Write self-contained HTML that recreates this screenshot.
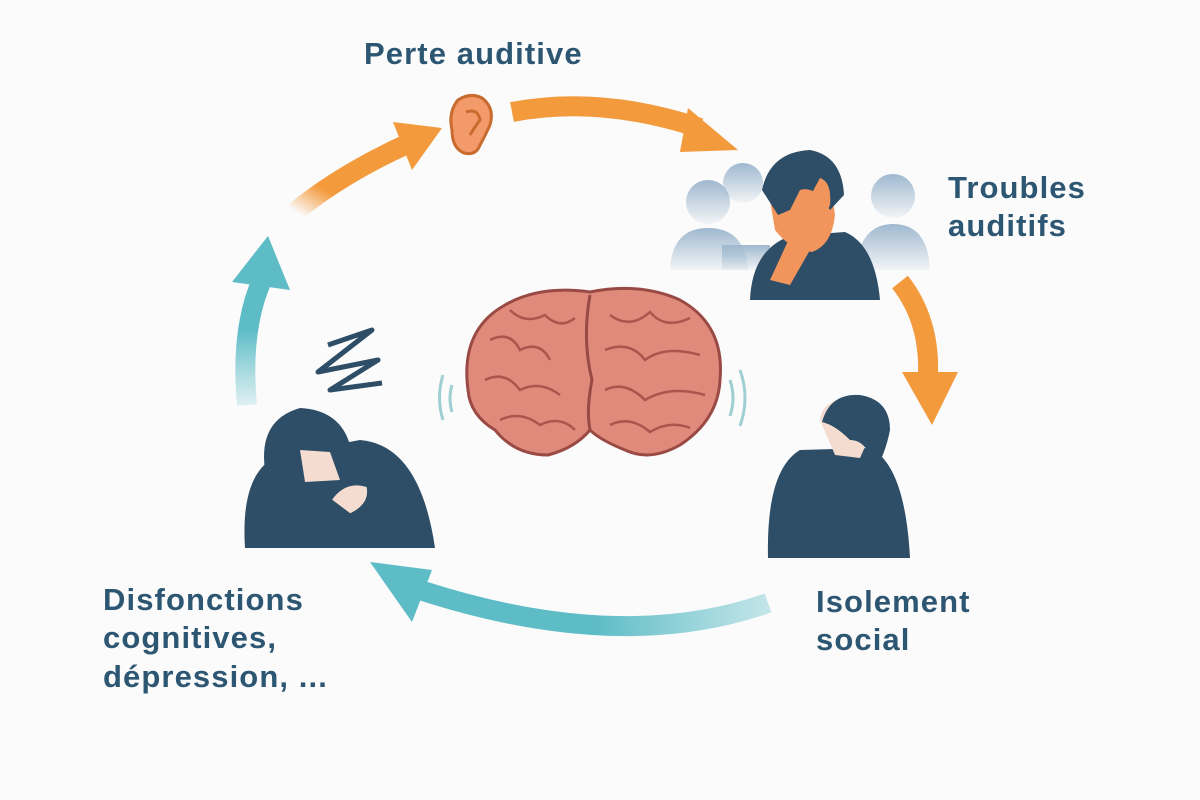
<!DOCTYPE html>
<html><head><meta charset="utf-8"><style>
html,body{margin:0;padding:0;background:#fbfbfb;}
svg{display:block}
text{font-family:"Liberation Sans",sans-serif;font-weight:bold;fill:#2d5673;font-size:31px;letter-spacing:1.1px;}
</style></head><body>
<svg width="1200" height="800" viewBox="0 0 1200 800">
<defs>
<linearGradient id="og1" x1="0" y1="1" x2="1" y2="0"><stop offset="0" stop-color="#f29a3c" stop-opacity="0"/><stop offset="0.3" stop-color="#f29a3c"/></linearGradient>
<linearGradient id="tg1" x1="0" y1="1" x2="0" y2="0"><stop offset="0" stop-color="#6cc3cc" stop-opacity="0.2"/><stop offset="0.6" stop-color="#5dbcc6"/></linearGradient>
<linearGradient id="tg2" x1="1" y1="0" x2="0" y2="0"><stop offset="0" stop-color="#6cc3cc" stop-opacity="0.4"/><stop offset="0.5" stop-color="#5dbcc6"/></linearGradient>
<linearGradient id="gp" x1="0" y1="0" x2="0" y2="1"><stop offset="0" stop-color="#9fb8cf"/><stop offset="1" stop-color="#9fb8cf" stop-opacity="0.1"/></linearGradient>
</defs>
<text x="364" y="64">Perte auditive</text>
<text x="948" y="198">Troubles</text>
<text x="948" y="236">auditifs</text>
<text x="816" y="612">Isolement</text>
<text x="816" y="650">social</text>
<text x="103" y="610">Disfonctions</text>
<text x="103" y="648">cognitives,</text>
<text x="103" y="687">dépression, ...</text>

<path d="M295 212 Q340 175 405 145" stroke="url(#og1)" stroke-width="20" fill="none"/>
<polygon points="393,122 442,128 412,170" fill="#f29a3c"/>
<path d="M512 112 Q600 95 700 128" stroke="#f29a3c" stroke-width="20" fill="none"/>
<polygon points="688,108 738,150 680,152" fill="#f29a3c"/>
<path d="M900 282 Q930 320 928 375" stroke="#f29a3c" stroke-width="20" fill="none"/>
<polygon points="902,372 958,372 932,425" fill="#f29a3c"/>
<path d="M768 603 Q620 655 420 590" stroke="url(#tg2)" stroke-width="20" fill="none"/>
<polygon points="370,562 432,570 412,622" fill="#5dbcc6"/>
<path d="M247 405 Q240 330 262 280" stroke="url(#tg1)" stroke-width="20" fill="none"/>
<polygon points="232,282 290,290 268,236" fill="#5dbcc6"/>

<path d="M458 100 Q470 92 482 98 Q495 108 490 125 Q484 138 480 145 Q476 156 464 153 Q452 148 452 130 Q448 112 458 100Z" fill="#f29a6a" stroke="#c96a2e" stroke-width="3"/>
<path d="M466 112 Q478 108 480 120 Q474 128 470 135" stroke="#c96a2e" stroke-width="3" fill="none"/>

<g fill="url(#gp)">
<circle cx="708" cy="202" r="22"/><path d="M670 270 Q672 228 708 228 Q745 228 748 270Z"/>
<circle cx="743" cy="183" r="20"/><path d="M722 245 L770 245 L770 270 L722 270Z"/>
<circle cx="893" cy="196" r="22"/><path d="M855 270 Q860 224 893 224 Q928 224 930 270Z"/>
</g>
<path d="M750 300 Q752 250 790 236 L845 232 Q875 245 880 300Z" fill="#2e4d67"/>
<path d="M770 200 Q790 175 815 178 Q832 186 835 215 Q832 245 812 252 Q790 250 775 230Z" fill="#f2955d"/>
<path d="M762 190 Q770 152 810 150 Q842 156 844 195 L830 210 Q815 185 800 190 L790 210 L778 215Z" fill="#2e4d67"/>
<path d="M800 215 L820 178 Q832 182 830 205 L810 250 L790 285 L770 280Z" fill="#f2955d"/>

<path d="M768 558 Q766 470 800 450 L870 448 Q905 465 910 558Z" fill="#2e4d67"/>
<path d="M820 420 Q822 400 850 398 Q870 405 868 440 L860 458 L835 455Z" fill="#f4dcd0"/>
<path d="M822 422 Q830 393 860 395 Q890 400 890 430 Q885 455 875 470 Q868 440 850 440 Q835 425 822 422Z" fill="#2e4d67"/>

<path d="M245 548 Q240 470 280 455 L360 440 Q420 445 435 548Z" fill="#2e4d67"/>
<path d="M265 470 Q258 420 300 408 Q340 410 350 445 L330 470Z" fill="#2e4d67"/>
<path d="M300 450 L330 452 L340 480 L305 482Z" fill="#f4dcd0"/>
<path d="M330 500 Q345 478 368 486 Q372 505 350 515Z" fill="#f4dcd0" stroke="#2e4d67" stroke-width="3"/>
<path d="M328 345 L372 330 L318 372 L378 360 L330 390 L382 383" stroke="#2e4d67" stroke-width="5" fill="none" stroke-linejoin="round"/>

<g>
<path d="M468 390 Q460 330 505 305 Q540 285 590 292 Q640 282 680 300 Q725 325 720 380 Q718 420 680 445 Q650 462 625 450 Q600 440 590 430 Q575 448 548 455 Q515 455 495 430 Q470 415 468 390Z" fill="#e08a7c" stroke="#9a4a44" stroke-width="3"/>
<path d="M590 295 Q582 340 592 380 Q586 410 590 430" stroke="#9a4a44" stroke-width="3" fill="none"/>
<g stroke="#a8564e" stroke-width="2.5" fill="none">
<path d="M490 340 Q510 330 520 350 Q540 340 550 360"/>
<path d="M510 310 Q525 325 545 315 Q560 330 575 318"/>
<path d="M485 380 Q505 370 520 390 Q540 380 560 395"/>
<path d="M500 420 Q520 410 540 425 Q560 415 575 430"/>
<path d="M610 315 Q630 330 650 312 Q665 330 690 318"/>
<path d="M605 350 Q630 340 645 360 Q665 345 700 355"/>
<path d="M605 390 Q625 380 645 400 Q670 385 705 395"/>
<path d="M610 425 Q630 415 650 432 Q670 420 690 428"/>
</g>
</g>
<g stroke="#9fcfd3" stroke-width="3" fill="none">
<path d="M443 375 Q436 398 443 420"/><path d="M452 385 Q448 398 452 412"/>
<path d="M740 370 Q750 398 740 426"/><path d="M730 380 Q736 398 730 416"/>
</g>
</svg>
</body></html>
